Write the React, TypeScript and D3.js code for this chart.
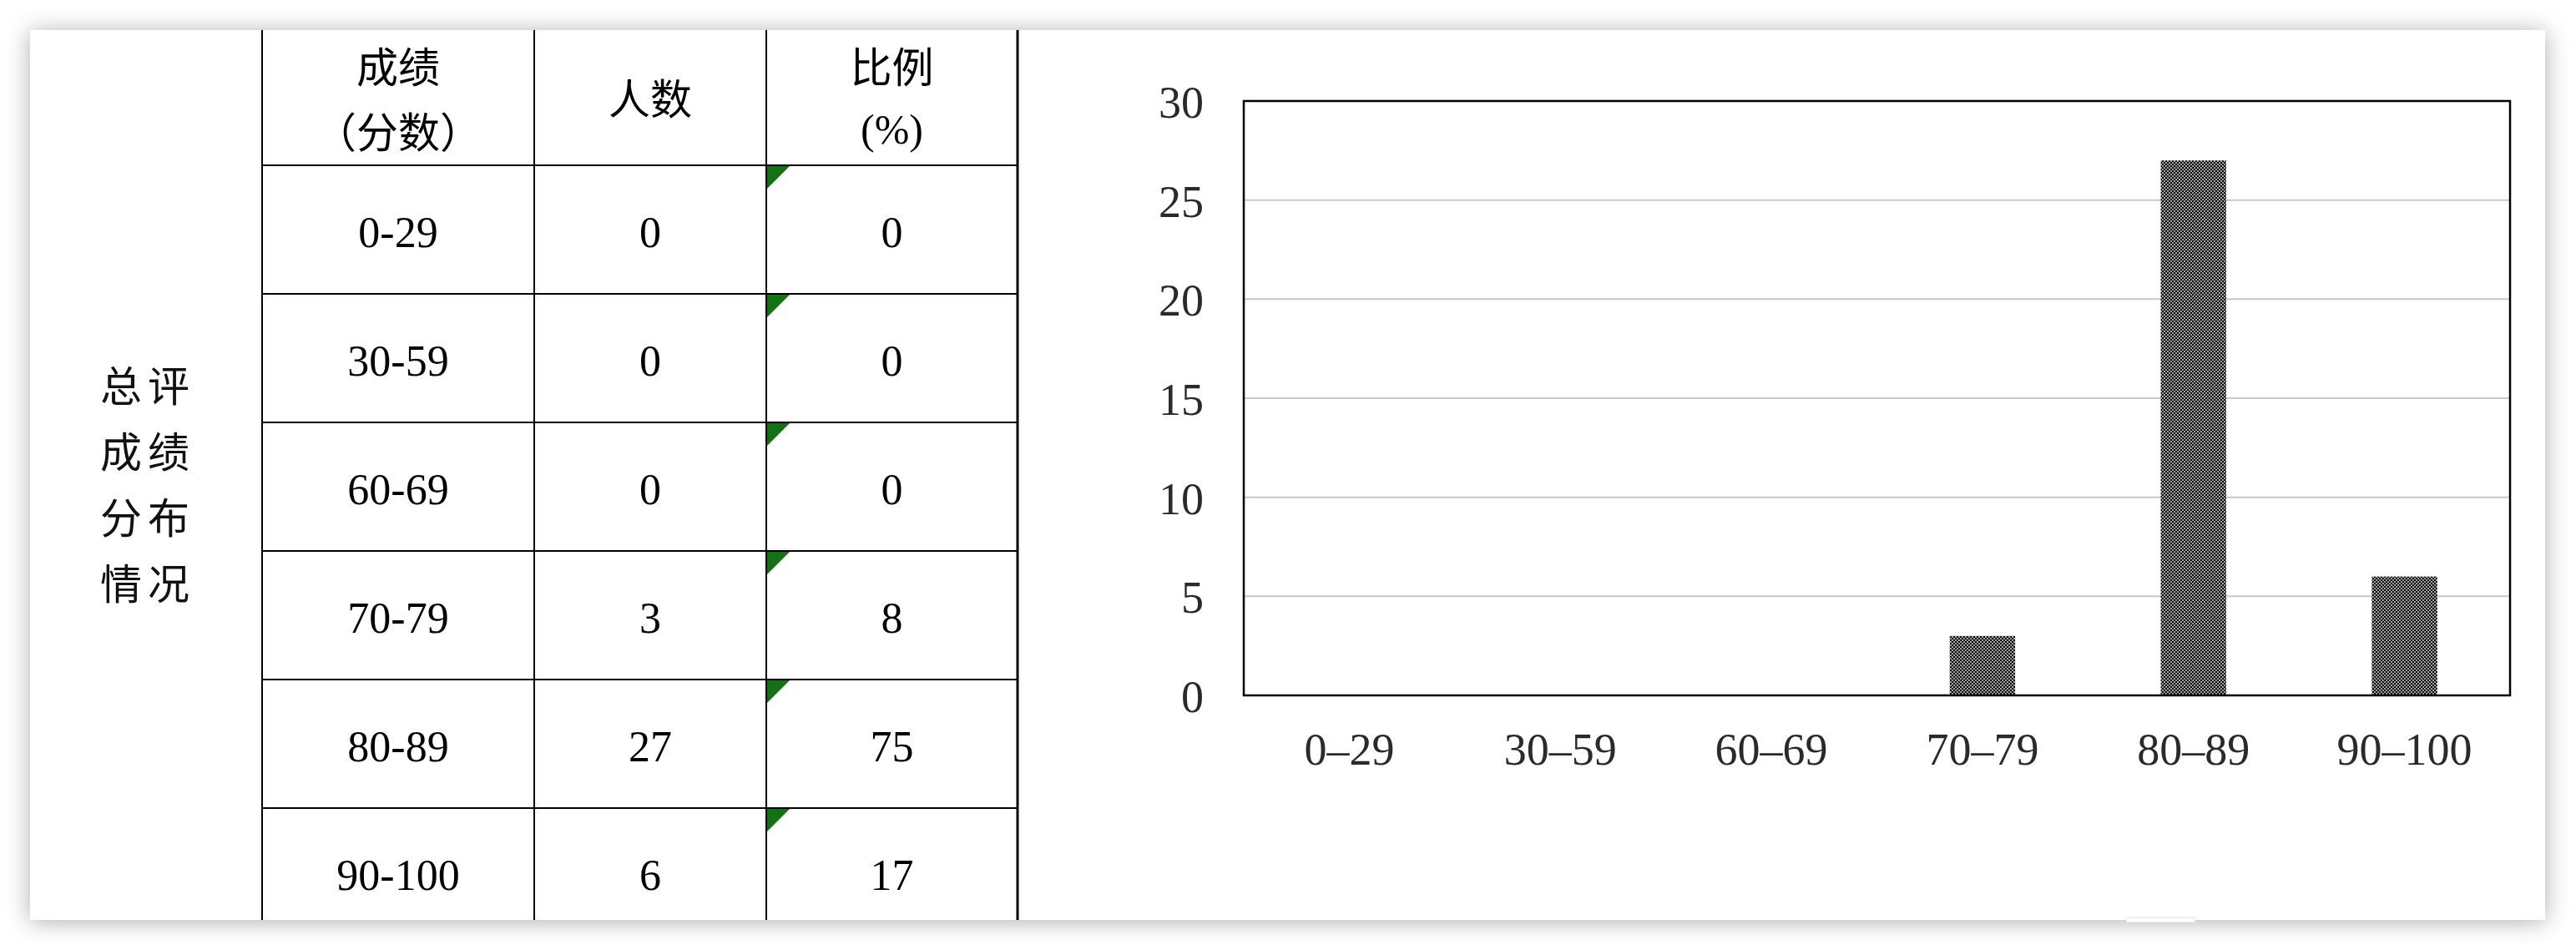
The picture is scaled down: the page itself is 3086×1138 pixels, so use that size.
import * as d3 from 'd3';

const categories = ['0-29', '30-59', '60-69', '70-79', '80-89', '90-100'];
const counts = [0, 0, 0, 3, 27, 6];
const percents = [0, 0, 0, 8, 75, 17];
const yTicks = [0, 5, 10, 15, 20, 25, 30];
const sideLabel = ['总评', '成绩', '分布', '情况'];
const headers = [
  ['成绩', '（分数）'],
  ['人数'],
  ['比例', '(%)'],
];

const W = 3086;
const H = 1138;
const card = { x: 36, y: 36, w: 3013, h: 1066 };

// table geometry
const colEdges = [314, 640, 918, 1219];
const headerBottom = 198;
const rowH = 154;

// chart geometry
const plot = { left: 1490, right: 3007, top: 121, bottom: 833 };

const serif = '"Liberation Serif", "Times New Roman", "Noto Sans CJK SC", serif';
const cjk = '"Noto Sans CJK SC", "Liberation Serif", serif';

export default function App() {
  const rowScale = d3
    .scaleBand<string>()
    .domain(categories)
    .range([headerBottom, headerBottom + rowH * categories.length]);

  const x = d3
    .scaleBand<string>()
    .domain(categories)
    .range([plot.left, plot.right])
    .paddingInner(0.69)
    .paddingOuter(0.345);

  const y = d3.scaleLinear().domain([0, 30]).range([plot.bottom, plot.top]);

  const colCenter = (i: number) => (colEdges[i] + colEdges[i + 1]) / 2;

  return (
    <svg
      width={W}
      height={H}
      style={{ position: 'fixed', left: 0, top: 0, background: '#fff' }}
    >
      <defs>
        <filter id="shadow" x="-3%" y="-8%" width="106%" height="116%">
          <feDropShadow dx="0" dy="2" stdDeviation="14" floodColor="#000" floodOpacity="0.32" />
        </filter>
        <pattern id="dots" width="4" height="4" patternUnits="userSpaceOnUse">
          <rect width="4" height="4" fill="#0a0a0a" />
          <rect x="0" y="0" width="2" height="2" fill="#a0a0a0" />
          <rect x="2" y="2" width="2" height="2" fill="#a0a0a0" />
        </pattern>
        <clipPath id="cardClip">
          <rect x={card.x} y={card.y} width={card.w} height={card.h} />
        </clipPath>
      </defs>

      <rect x={card.x} y={card.y} width={card.w} height={card.h} fill="#fff" filter="url(#shadow)" />

      <g clipPath="url(#cardClip)">
        {/* side label */}
        {sideLabel.map((s, i) =>
          s.split('').map((ch, j) => (
            <text
              key={`${i}-${j}`}
              x={145 + j * 57}
              y={459 + i * 79}
              textAnchor="middle"
              dominantBaseline="central"
              fontFamily={cjk}
              fontSize={50}
              fill="#111"
            >
              {ch}
            </text>
          ))
        )}

        {/* header */}
        {headers.map((lines, i) =>
          lines.map((t, j) => (
            <text
              key={`h-${i}-${j}`}
              x={colCenter(i)}
              y={lines.length === 1 ? 115 : j === 0 ? 77 : 155}
              textAnchor="middle"
              dominantBaseline="central"
              fontFamily={t === '(%)' ? serif : cjk}
              fontSize={50}
              fill="#000"
            >
              {t}
            </text>
          ))
        )}

        {/* table rows */}
        {categories.map((c, i) => {
          const cy = rowScale(c)! + rowScale.bandwidth() / 2 + 3;
          const cells = [c, String(counts[i]), String(percents[i])];
          return (
            <g key={c}>
              {cells.map((t, k) => (
                <text
                  key={k}
                  x={colCenter(k)}
                  y={cy}
                  textAnchor="middle"
                  dominantBaseline="central"
                  fontFamily={serif}
                  fontSize={52}
                  fill="#000"
                >
                  {t}
                </text>
              ))}
              <path
                d={`M${colEdges[2]},${rowScale(c)!}h29l-29,29z`}
                fill="#137313"
              />
            </g>
          );
        })}

        {/* table lines */}
        {[headerBottom, ...categories.slice(1).map((c) => rowScale(c)!)].map((ly) => (
          <line key={ly} x1={colEdges[0]} x2={colEdges[3]} y1={ly} y2={ly} stroke="#000" strokeWidth={2} />
        ))}
        {colEdges.map((cx, i) => (
          <line
            key={cx}
            x1={cx}
            x2={cx}
            y1={card.y}
            y2={card.y + card.h}
            stroke="#000"
            strokeWidth={i === 3 ? 3 : 2}
          />
        ))}

        {/* chart gridlines */}
        {yTicks
          .filter((t) => t > 0 && t < 30)
          .map((t) => (
            <line
              key={t}
              x1={plot.left}
              x2={plot.right}
              y1={y(t)}
              y2={y(t)}
              stroke="#c8c8c8"
              strokeWidth={2}
            />
          ))}

        {/* bars */}
        {categories.map((c, i) =>
          counts[i] > 0 ? (
            <rect
              key={c}
              x={x(c)!}
              y={y(counts[i])}
              width={x.bandwidth()}
              height={y(0) - y(counts[i])}
              fill="url(#dots)"
            />
          ) : null
        )}

        {/* plot frame */}
        <rect
          x={plot.left}
          y={plot.top}
          width={plot.right - plot.left}
          height={plot.bottom - plot.top}
          fill="none"
          stroke="#000"
          strokeWidth={2.5}
        />

        {/* y labels */}
        {yTicks.map((t) => (
          <text
            key={t}
            x={plot.left - 48}
            y={y(t) + 2}
            textAnchor="end"
            dominantBaseline="central"
            fontFamily={serif}
            fontSize={54}
            fill="#2a2a2a"
          >
            {t}
          </text>
        ))}

        {/* x labels */}
        {categories.map((c) => (
          <text
            key={c}
            x={x(c)! + x.bandwidth() / 2}
            y={898}
            textAnchor="middle"
            dominantBaseline="central"
            fontFamily={serif}
            fontSize={54}
            fill="#2a2a2a"
          >
            {c.replace('-', '–')}
          </text>
        ))}
      </g>

      <rect x={2547} y={1099} width={83} height={6} rx={2} fill="#fff" stroke="#dedede" strokeWidth={1} />
    </svg>
  );
}
